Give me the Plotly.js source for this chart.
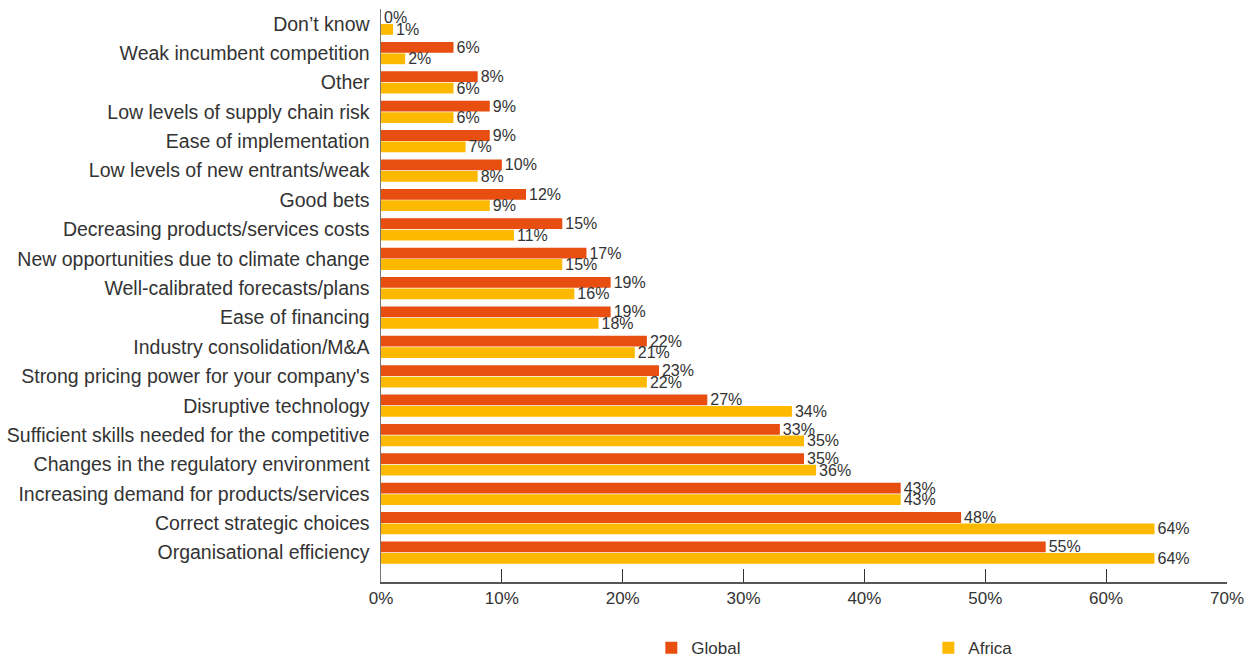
<!DOCTYPE html>
<html>
<head>
<meta charset="utf-8">
<script src="https://cdn.plot.ly/plotly-3.0.1.min.js"></script>
<style>html,body{margin:0;padding:0;background:#fff;}#chart{width:1255px;height:660px;}</style>
</head>
<body>
<div id="chart"></div>
<script>
const categories = [
  "Don’t know",
  "Weak incumbent competition",
  "Other",
  "Low levels of supply chain risk",
  "Ease of implementation",
  "Low levels of new entrants/weak",
  "Good bets",
  "Decreasing products/services costs",
  "New opportunities due to climate change",
  "Well-calibrated forecasts/plans",
  "Ease of financing",
  "Industry consolidation/M&A",
  "Strong pricing power for your company's",
  "Disruptive technology",
  "Sufficient skills needed for the competitive",
  "Changes in the regulatory environment",
  "Increasing demand for products/services",
  "Correct strategic choices",
  "Organisational efficiency"
];
const globalValues = [0, 6, 8, 9, 9, 10, 12, 15, 17, 19, 19, 22, 23, 27, 33, 35, 43, 48, 55];
const africaValues = [1, 2, 6, 6, 7, 8, 9, 11, 15, 16, 18, 21, 22, 34, 35, 36, 43, 64, 64];
const xTickValues = [0, 10, 20, 30, 40, 50, 60, 70];
const xTickLabels = ["0%", "10%", "20%", "30%", "40%", "50%", "60%", "70%"];

const font = "Liberation Sans, Arial, Helvetica, sans-serif";
const traces = [
  {type: "bar", orientation: "h", name: "Global", y: categories, x: globalValues,
   marker: {color: "#E84E10"}, text: globalValues.map(v => v + "%"), textposition: "outside",
   constraintext: "none", hoverinfo: "none",
   textfont: {size: 16, color: "#333333", family: font}, cliponaxis: false},
  {type: "bar", orientation: "h", name: "Africa", y: categories, x: africaValues,
   marker: {color: "#FDB900"}, text: africaValues.map(v => v + "%"), textposition: "outside",
   constraintext: "none", hoverinfo: "none",
   textfont: {size: 16, color: "#333333", family: font}, cliponaxis: false}
];
const layout = {
  width: 1255, height: 660,
  margin: {l: 381, r: 28, t: 9, b: 78},
  paper_bgcolor: "#fff", plot_bgcolor: "#fff",
  font: {family: font, color: "#333333", size: 17},
  barmode: "group", bargap: 0.22, bargroupgap: 0.06,
  showlegend: true,
  legend: {orientation: "h", xref: "container", yref: "container", x: 0.519, y: 0.018,
           xanchor: "left", yanchor: "middle",
           entrywidth: 232, font: {size: 17, color: "#333333"}, traceorder: "normal"},
  xaxis: {range: [0, 70], tickvals: xTickValues, ticktext: xTickLabels,
          showgrid: false, zeroline: false, showline: true, linecolor: "#555555", linewidth: 1.5,
          ticks: "inside", ticklen: 13, tickcolor: "#333333", tickwidth: 1,
          tickfont: {size: 17, color: "#333333"}, fixedrange: true},
  yaxis: {type: "category", categoryorder: "array", categoryarray: categories,
          range: [19, -0.5], showgrid: false, zeroline: false, showline: true,
          linecolor: "#777777", linewidth: 1.5, ticks: "", ticklabelstandoff: 6,
          tickfont: {size: 19.5, color: "#333333"}, fixedrange: true}
};
Plotly.newPlot("chart", traces, layout, {displayModeBar: false, staticPlot: true});
</script>
</body>
</html>
